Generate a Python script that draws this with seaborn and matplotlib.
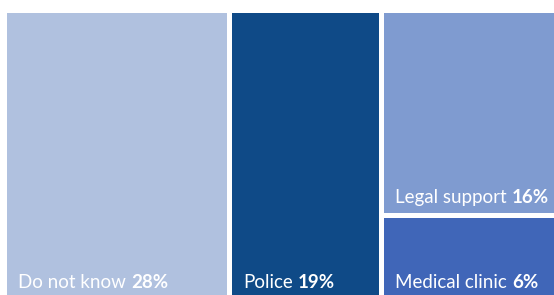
import matplotlib
matplotlib.use("Agg")
import matplotlib.pyplot as plt
from matplotlib.patches import Rectangle
import seaborn as sns

categories = ["Do not know", "Police", "Legal support", "Medical clinic"]
values = [28, 19, 16, 6]
colors = ["#B0C1DF", "#0F4A87", "#7F9BD0", "#4066B8"]

sns.set_theme(style="white")
plt.rcParams["font.family"] = ["Lato", "DejaVu Sans"]

W, H = 554, 295
fig = plt.figure(figsize=(W / 100, H / 100), dpi=100)
# axes area in pixels: x from 7 to ~561 (last gap falls outside), y from 13 to 295
ax = fig.add_axes([7 / W, 0, 554 / W, 282 / H])
total = sum(values)
ax.set_xlim(0, total)
ax.set_ylim(0, 1)
ax.axis("off")

gx = 5 / 554 * total
gy = 5 / 282

rects = []
x = 0
for v in values[:2]:
    rects.append((x, 0, v, 1))
    x += v
col_w = values[2] + values[3]
h_med = values[3] / col_w
rects.append((x, h_med, col_w, 1 - h_med))
rects.append((x, 0, col_w, h_med))

for (rx, ry, rw, rh), c, cat, v in zip(rects, colors, categories, values):
    bottom_gap = gy if ry > 0 else 0
    ax.add_patch(Rectangle((rx, ry + bottom_gap), rw - gx, rh - bottom_gap,
                           facecolor=c, edgecolor="none"))
    dy = 7.5 if ry > 0 else 5
    t1 = ax.annotate(cat, xy=(rx, ry + bottom_gap), xycoords="data",
                     xytext=(8, dy), textcoords="offset points",
                     ha="left", va="baseline", color="white",
                     fontsize=13.5, fontweight="normal")
    ax.annotate(f"{v}%", xy=(1, 0), xycoords=t1,
                xytext=(3.5, 0), textcoords="offset points",
                ha="left", va="bottom", color="white",
                fontsize=13.5, fontweight="bold")

fig.savefig("out.png", dpi=100)
